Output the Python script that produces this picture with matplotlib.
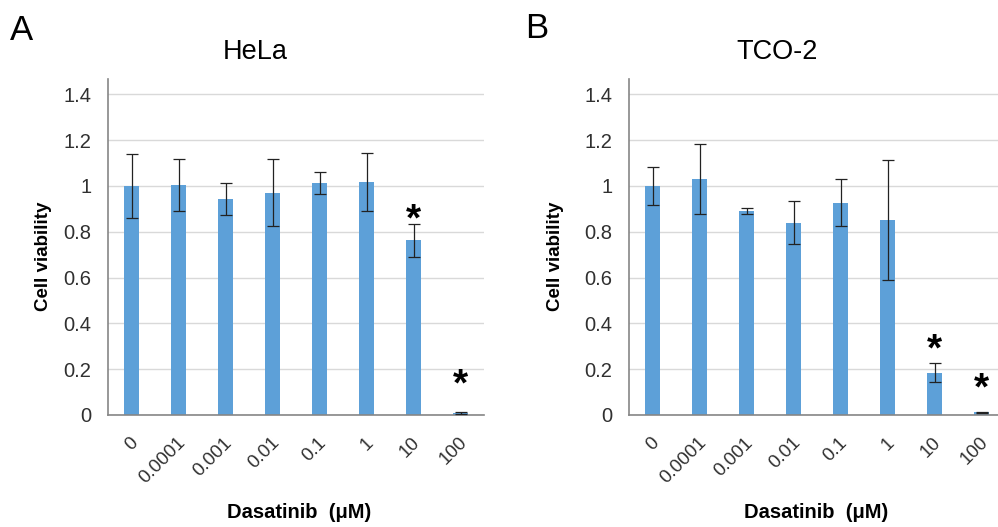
import numpy as np
import matplotlib
matplotlib.use("Agg")
import matplotlib.pyplot as plt
import matplotlib.transforms as mtransforms

plt.rcParams['font.family'] = ['Liberation Sans', 'DejaVu Sans']

# --- data ---
doses = ["0", "0.0001", "0.001", "0.01", "0.1", "1", "10", "100"]

hela_mean = [1.00, 1.005, 0.945, 0.971, 1.013, 1.017, 0.763, 0.008]
hela_err = [0.138, 0.114, 0.070, 0.145, 0.046, 0.128, 0.072, 0.003]
hela_star = [6, 7]
hela_star_y = [0.88, 0.16]

tco_mean = [1.00, 1.029, 0.892, 0.840, 0.927, 0.852, 0.185, 0.012]
tco_err = [0.083, 0.153, 0.013, 0.095, 0.102, 0.263, 0.043, 0.003]
tco_star = [6, 7]
tco_star_y = [0.314, 0.145]

BAR = "#5DA0D8"
W, H = 998, 527

fig = plt.figure(figsize=(W / 100, H / 100), dpi=100)


def panel(left_px, mean, err, stars, star_y):
    ax = fig.add_axes([left_px / W, 1 - 415 / H, 376 / W, 336 / H])
    x = np.arange(len(doses))
    ax.bar(x, mean, width=0.32, color=BAR, zorder=2)
    ax.errorbar(x, mean, yerr=err, fmt="none", ecolor="#222222",
                elinewidth=0.9, capsize=4, capthick=0.9, zorder=3)
    for i, sy in zip(stars, star_y):
        ax.annotate("*", (x[i], sy), xytext=(0, -12.5), textcoords="offset points",
                    ha="center", va="baseline", fontsize=28, fontweight="bold")
    ax.set_xlim(-0.5, len(doses) - 0.5)
    ax.set_ylim(0, 1.467)
    ax.set_yticks([0, 0.2, 0.4, 0.6, 0.8, 1.0, 1.2, 1.4])
    ax.set_yticklabels(["0", "0.2", "0.4", "0.6", "0.8", "1", "1.2", "1.4"])
    ax.yaxis.grid(True, color="#d9d9d9", linewidth=1.0, zorder=0)
    ax.set_axisbelow(True)
    for s in ["top", "right"]:
        ax.spines[s].set_visible(False)
    for s in ["left", "bottom"]:
        ax.spines[s].set_color("#868686")
        ax.spines[s].set_linewidth(1.2)
    ax.tick_params(axis="y", length=0, labelsize=14.5, pad=12, labelcolor="#303030")
    ax.tick_params(axis="x", length=0, labelsize=13.5, pad=18, labelcolor="#303030")
    ax.set_xticks(x)
    ax.set_xticklabels(doses, rotation=45, ha="right", va="center",
                       rotation_mode="anchor")
    shift = mtransforms.ScaledTranslation(4 / 100, 0, fig.dpi_scale_trans)
    for lab in ax.get_xticklabels():
        lab.set_transform(lab.get_transform() + shift)
    return ax


axA = panel(108, hela_mean, hela_err, hela_star, hela_star_y)
axB = panel(629, tco_mean, tco_err, tco_star, tco_star_y)

# titles, panel letters, axis labels
fig.text(255 / W, 1 - 52 / H, "HeLa", ha="center", va="center", fontsize=19.5)
fig.text(777 / W, 1 - 52 / H, "TCO-2", ha="center", va="center", fontsize=19.5)
fig.text(21 / W, 1 - 30 / H, "A", ha="center", va="center", fontsize=25)
fig.text(537 / W, 1 - 28 / H, "B", ha="center", va="center", fontsize=25)

for cx in [299, 816]:
    fig.text(cx / W, 1 - 513 / H, "Dasatinib  (μM)", ha="center", va="center",
             fontsize=14.5, fontweight="bold")
for cx in [43, 556]:
    fig.text(cx / W, 1 - 256 / H, "Cell viability", ha="center", va="center",
             rotation=90, fontsize=13.5, fontweight="bold")

fig.savefig("out.png", dpi=100)
